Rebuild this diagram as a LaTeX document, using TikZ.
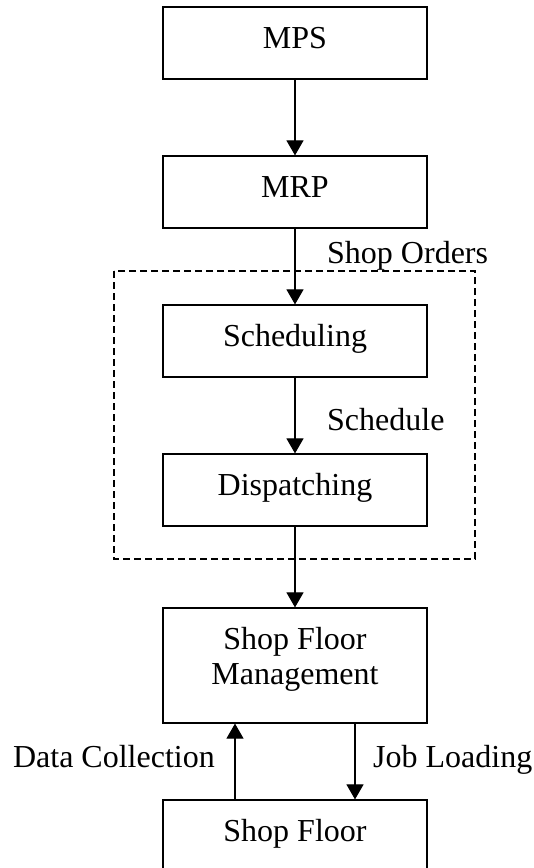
\documentclass[tikz,border=0pt]{standalone}
\usepackage{fontspec}
\setmainfont{Liberation Serif}
\usepackage{tikz}
\usetikzlibrary{arrows.meta}

\begin{document}
\begin{tikzpicture}[x=1pt, y=-1pt,
    every node/.style={font=\fontsize{32}{35}\selectfont},
    box/.style={draw, line width=1.2pt, minimum width=264pt, minimum height=72pt, inner sep=0pt},
    onebox/.style={box, text height=22pt, text depth=12pt},
    flow/.style={-{Triangle[length=15pt, width=17pt]}, line width=1.1pt},
    lbl/.style={inner sep=0pt}]
   % Page frame
   \useasboundingbox (0,0) rectangle (534,868);
   % Dashed boundary round scheduling and dispatching
   \draw[dash pattern=on 7pt off 4pt, line width=1.3pt] (114,271) rectangle (475,559);

   % Blocks
   \node[onebox] (mps) at (295,43) {MPS};
   \node[onebox] (mrp) at (295,192) {MRP};
   \node[onebox] (sched) at (295,341) {Scheduling};
   \node[onebox] (disp) at (295,490) {Dispatching};
   \node[box, minimum height=115pt, align=center, text depth=19pt] (sfm) at (295,665.5) {Shop Floor\\Management};
   \node[onebox] (floor) at (295,836) {Shop Floor};

   % Flow between blocks
   \draw[flow] (mps) -- (mrp);
   \draw[flow] (mrp) -- (sched);
   \draw[flow] (sched) -- (disp);
   \draw[flow] (disp) -- (sfm);
   \draw[flow] ([xshift=-60pt]floor.north) -- ([xshift=-60pt]sfm.south);
   \draw[flow] ([xshift=60pt]sfm.south) -- ([xshift=60pt]floor.north);

   % Labels
   \node[lbl, anchor=base west] (orders) at (327,263) {Shop Orders};
   \node[lbl, anchor=base west] (schedlbl) at (327,430) {Schedule};
   \node[lbl, anchor=base east] (collect) at (215,767) {Data Collection};
   \node[lbl, anchor=base west] (loading) at (373,767) {Job Loading};
\end{tikzpicture}
\end{document}
